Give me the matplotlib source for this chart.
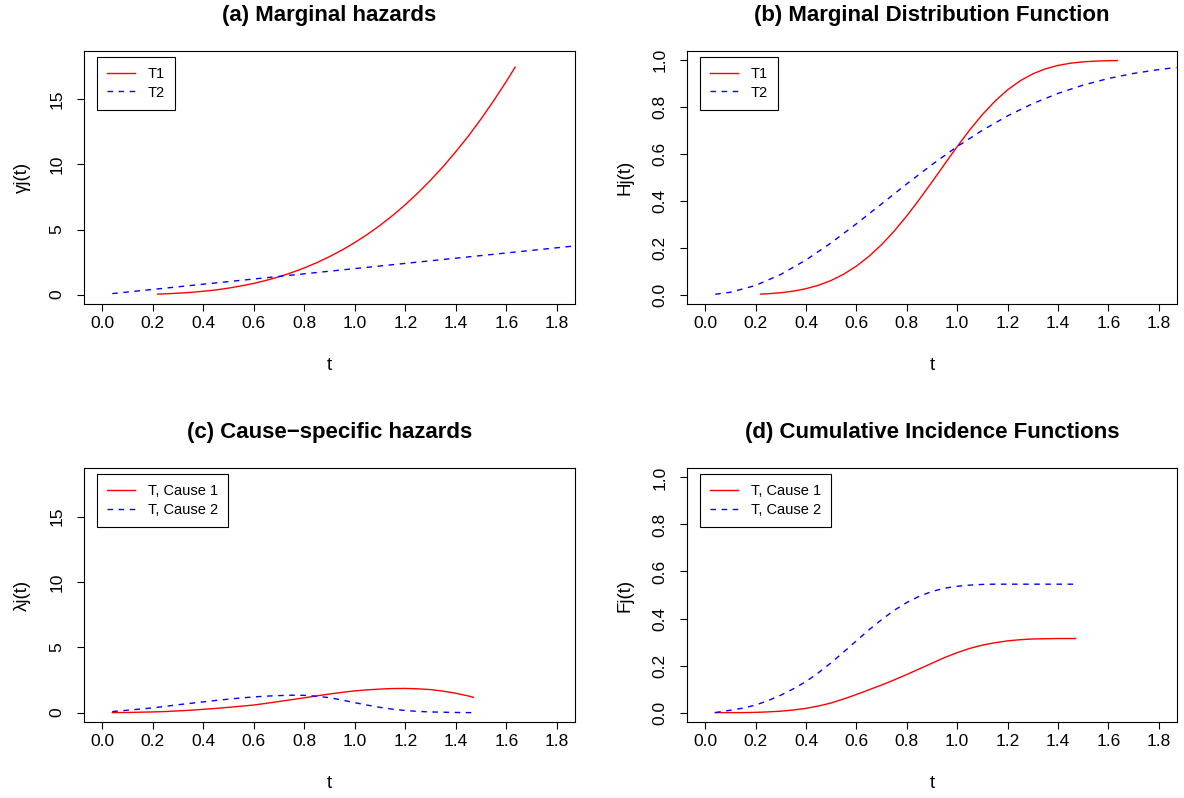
import matplotlib
matplotlib.use('Agg')
import matplotlib.pyplot as plt

plt.rcParams['font.family'] = ['Liberation Sans', 'DejaVu Sans']

# Panel (a): marginal hazards
t_T1 = [0.22, 0.25, 0.30, 0.35, 0.40, 0.45, 0.50, 0.55, 0.60, 0.65, 0.70, 0.75,
        0.80, 0.85, 0.90, 0.95, 1.00, 1.05, 1.10, 1.15, 1.20, 1.25, 1.30, 1.35,
        1.40, 1.45, 1.50, 1.55, 1.60, 1.635]
haz_T1 = [0.04, 0.06, 0.11, 0.17, 0.26, 0.36, 0.50, 0.67, 0.86, 1.10, 1.37, 1.69,
          2.05, 2.46, 2.92, 3.43, 4.00, 4.63, 5.32, 6.08, 6.91, 7.81, 8.79, 9.84,
          10.98, 12.19, 13.50, 14.90, 16.38, 17.48]
t_T2 = [0.04, 0.2, 0.4, 0.6, 0.8, 1.0, 1.2, 1.4, 1.6, 1.8, 1.87]
haz_T2 = [0.08, 0.40, 0.80, 1.20, 1.60, 2.00, 2.40, 2.80, 3.20, 3.60, 3.74]

# Panel (b): marginal distribution functions
cdf_T1 = [0.0023, 0.0039, 0.0081, 0.0149, 0.0253, 0.0402, 0.0606, 0.0874, 0.1216,
          0.1635, 0.2134, 0.2712, 0.3361, 0.4067, 0.4811, 0.5571, 0.6321, 0.7034,
          0.7687, 0.8260, 0.8743, 0.9130, 0.9425, 0.9639, 0.9785, 0.9880, 0.9937,
          0.9969, 0.9986, 0.9992]
t_T2_cdf = [0.04, 0.1, 0.2, 0.3, 0.4, 0.5, 0.6, 0.7, 0.8, 0.9, 1.0, 1.1, 1.2, 1.3,
            1.4, 1.5, 1.6, 1.7, 1.8, 1.87]
cdf_T2 = [0.0016, 0.0100, 0.0392, 0.0861, 0.1479, 0.2212, 0.3023, 0.3874, 0.4727,
          0.5551, 0.6321, 0.7018, 0.7631, 0.8155, 0.8591, 0.8946, 0.9227, 0.9444,
          0.9608, 0.9697]

# Panels (c) and (d): competing risks, cause 1 and cause 2
t_cr = [0.04, 0.10, 0.15, 0.20, 0.25, 0.30, 0.35, 0.40, 0.45, 0.50, 0.55, 0.60,
        0.65, 0.70, 0.75, 0.80, 0.85, 0.90, 0.95, 1.00, 1.05, 1.10, 1.15, 1.20,
        1.25, 1.30, 1.35, 1.40, 1.45, 1.47]
csh_1 = [0.00, 0.01, 0.03, 0.05, 0.08, 0.13, 0.18, 0.25, 0.32, 0.40, 0.49, 0.58,
         0.71, 0.85, 0.99, 1.13, 1.28, 1.42, 1.55, 1.66, 1.74, 1.80, 1.84, 1.85,
         1.82, 1.76, 1.64, 1.48, 1.27, 1.17]
csh_2 = [0.08, 0.18, 0.27, 0.36, 0.48, 0.60, 0.71, 0.82, 0.93, 1.03, 1.12, 1.20,
         1.26, 1.30, 1.33, 1.32, 1.25, 1.14, 0.96, 0.76, 0.57, 0.40, 0.26, 0.16,
         0.09, 0.05, 0.03, 0.01, 0.00, 0.00]
cif_1 = [0.000, 0.000, 0.000, 0.001, 0.003, 0.006, 0.011, 0.018, 0.028, 0.041,
         0.058, 0.077, 0.097, 0.117, 0.139, 0.162, 0.186, 0.210, 0.234, 0.255,
         0.273, 0.287, 0.297, 0.305, 0.310, 0.313, 0.314, 0.315, 0.315, 0.315]
cif_2 = [0.000, 0.010, 0.019, 0.032, 0.051, 0.074, 0.101, 0.132, 0.170, 0.212,
         0.258, 0.305, 0.352, 0.395, 0.435, 0.468, 0.495, 0.515, 0.529, 0.537,
         0.542, 0.545, 0.546, 0.546, 0.546, 0.546, 0.546, 0.546, 0.546, 0.546]

x_ticks = [0.0, 0.2, 0.4, 0.6, 0.8, 1.0, 1.2, 1.4, 1.6, 1.8]
haz_ticks = [0, 5, 10, 15]
prob_ticks = [0.0, 0.2, 0.4, 0.6, 0.8, 1.0]

fig = plt.figure(figsize=(11.84, 7.98), dpi=100)

W = 1184.0
H = 798.0
def box(l, t, r, b):
    return [l / W, 1 - b / H, (r - l) / W, (b - t) / H]

axes = [fig.add_axes(box(84, 51, 575, 304)),
        fig.add_axes(box(687, 51, 1177, 304)),
        fig.add_axes(box(84, 468, 575, 722)),
        fig.add_axes(box(687, 468, 1177, 722))]

def style(ax, title, ylab, ylim, yticks, fmt):
    ax.set_xlim(-0.072, 1.872)
    ax.set_ylim(ylim[0] - 0.04 * (ylim[1] - ylim[0]),
                ylim[1] + 0.04 * (ylim[1] - ylim[0]))
    ax.set_xticks(x_ticks)
    ax.set_xticklabels(['%.1f' % v for v in x_ticks])
    ax.set_yticks(yticks)
    ax.set_yticklabels([fmt % v for v in yticks], rotation=90, va='center')
    ax.tick_params(axis='both', direction='out', length=5, width=0.8,
                   labelsize=12.5, color='black')
    ax.tick_params(axis='x', pad=4)
    ax.tick_params(axis='y', pad=9)
    for s in ax.spines.values():
        s.set_linewidth(0.8)
        s.set_color('black')
    ax.set_xlabel('t', fontsize=13.5)
    ax.xaxis.label.set_va('center')
    ax.xaxis.set_label_coords(0.5, -61 / 253.0)
    ax.set_ylabel(ylab, fontsize=13.5)
    ax.yaxis.label.set_va('center')
    ax.yaxis.set_label_coords(-62 / 491.0, 0.5)
    ax.text(0.5, 1 + 35 / 253.0, title, transform=ax.transAxes,
            ha='center', va='center', fontsize=16, fontweight='bold')

def add_legend(ax, labels):
    leg = ax.legend(labels, loc='upper left',
                    bbox_to_anchor=(13 / 491.0, 1 - 6 / 253.0),
                    borderaxespad=0, fancybox=False, framealpha=1,
                    edgecolor='black', fontsize=10.5, handlelength=1.9,
                    handletextpad=0.9, borderpad=0.7, labelspacing=0.3)
    leg.get_frame().set_linewidth(0.8)

red = dict(color='red', lw=1.0)
blue = dict(color='blue', lw=1.0, linestyle=(0, (4, 4)))

ax = axes[0]
ax.plot(t_T1, haz_T1, **red)
ax.plot(t_T2, haz_T2, **blue)
style(ax, '(a) Marginal hazards', '\u03b3j(t)', (0, 18), haz_ticks, '%d')
add_legend(ax, ['T1', 'T2'])

ax = axes[1]
ax.plot(t_T1, cdf_T1, **red)
ax.plot(t_T2_cdf, cdf_T2, **blue)
style(ax, '(b) Marginal Distribution Function', 'Hj(t)', (0, 1), prob_ticks, '%.1f')
add_legend(ax, ['T1', 'T2'])

ax = axes[2]
ax.plot(t_cr, csh_1, **red)
ax.plot(t_cr, csh_2, **blue)
style(ax, '(c) Cause\u2212specific hazards', '\u03bbj(t)', (0, 18), haz_ticks, '%d')
add_legend(ax, ['T, Cause 1', 'T, Cause 2'])

ax = axes[3]
ax.plot(t_cr, cif_1, **red)
ax.plot(t_cr, cif_2, **blue)
style(ax, '(d) Cumulative Incidence Functions', 'Fj(t)', (0, 1), prob_ticks, '%.1f')
add_legend(ax, ['T, Cause 1', 'T, Cause 2'])

fig.savefig('out.png', dpi=100)
